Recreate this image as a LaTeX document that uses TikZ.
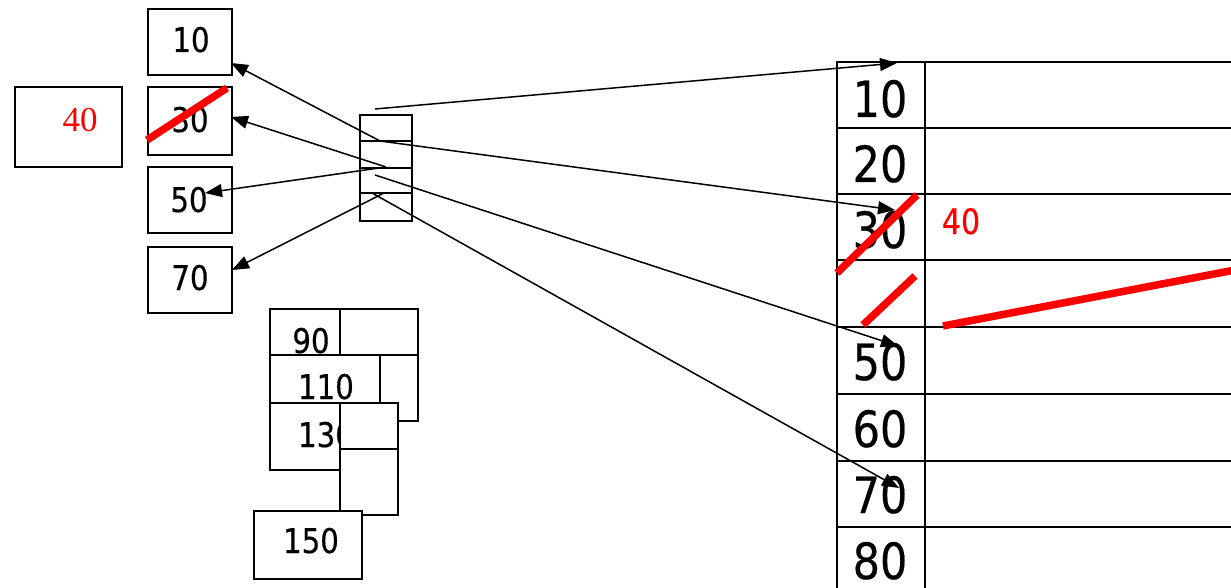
\documentclass[tikz,border=0pt]{standalone}
\usepackage{fontspec}
\usetikzlibrary{arrows.meta}
\newfontfamily\keyfont[FakeStretch=0.86,FakeBold=0.4]{DejaVu Sans}
\newfontfamily\notefont{Liberation Serif}

\begin{document}
\begin{tikzpicture}[x=1pt,y=-1pt,
  box/.style={draw, line width=1.8pt, inner sep=0pt, fill=white},
  key/.style={anchor=base, inner sep=0pt, font=\keyfont\fontsize{34}{34}\selectfont},
  bigkey/.style={anchor=base, inner sep=0pt, font=\keyfont\fontsize{50}{50}\selectfont},
  ptr/.style={line width=1.5pt, -{Triangle[length=17pt,width=13pt]}},
  strike/.style={draw=red, line width=7.5pt},
]
\useasboundingbox (0,0) rectangle (1231,588);

% ---- upper index node: four keys ----
\node[box, minimum width=84pt, minimum height=66pt] (b10) at (190,42) {};
\node[box, minimum width=84pt, minimum height=68pt] (b30) at (190,121) {};
\node[box, minimum width=84pt, minimum height=66pt] (b50) at (190,200) {};
\node[box, minimum width=84pt, minimum height=66pt] (b70) at (190,280) {};
\node[key] (t10) at (191,52) {10};
\node[key] (t30) at (190,132) {30};
\node[key] (t50) at (189,212) {50};
\node[key] (t70) at (190,290) {70};

% new key kept aside
\node[box, minimum width=107pt, minimum height=80pt] (b40) at (68.5,127) {};
\node[anchor=base, inner sep=0pt, text=red, font=\notefont\fontsize{35}{35}\selectfont] (t40) at (80,132) {40};

% ---- pointer array ----
\node[box, minimum width=52pt, minimum height=26pt] (p0) at (386,128) {};
\node[box, minimum width=52pt, minimum height=27pt] (p1) at (386,154.5) {};
\node[box, minimum width=52pt, minimum height=25pt] (p2) at (386,180.5) {};
\node[box, minimum width=52pt, minimum height=28pt] (p3) at (386,207) {};

% ---- lower cluster of overlapping nodes ----
\node[box, minimum width=70pt, minimum height=46pt] (n90k) at (305,332) {};
\node[box, minimum width=78pt, minimum height=46pt] (n90p) at (379,332) {};
\node[key] (t90) at (311,353) {90};
\node[box, minimum width=38pt, minimum height=66pt] (n110p) at (399,388) {};
\node[box, minimum width=110pt, minimum height=48pt] (n110k) at (325,379) {};
\node[key] (t110) at (326,399) {110};
\node[box, minimum width=70pt, minimum height=67pt] (n130k) at (305,436.5) {};
\node[key] (t130) at (326,447) {130};
\node[box, minimum width=58pt, minimum height=46pt] (n130p) at (369,426) {};
\node[box, minimum width=58pt, minimum height=66pt] (n130q) at (369,482) {};
\node[box, minimum width=108pt, minimum height=68pt] (n150) at (308,545) {};
\node[key] (t150) at (311,553) {150};

% ---- leaf table ----
\foreach \ya/\yb/\nm in {61/127/r1,127/193/r2,193/259/r3,259/326/r4,326/393/r5,393/460/r6,460/526/r7,526/620/r8}{
  \node[box, minimum width=88pt, minimum height={\yb-\ya}, anchor=north west] (\nm k) at (836,\ya) {};
  \node[box, minimum width=330pt, minimum height={\yb-\ya}, anchor=north west] (\nm v) at (924,\ya) {};
}
\node[bigkey] at (880,117) {10};
\node[bigkey] at (880,182) {20};
\node[bigkey] at (880,248) {30};
\node[bigkey] at (880,380) {50};
\node[bigkey] at (880,447) {60};
\node[bigkey] at (880,513) {70};
\node[bigkey] at (880,579) {80};
\node[anchor=base, inner sep=0pt, text=red, font=\keyfont\fontsize{35}{35}\selectfont] (n40) at (961,234) {40};

% ---- pointers ----
\coordinate (s0) at (375,109);
\coordinate (s1) at (380,141);
\coordinate (s2) at (386,167);
\coordinate (s2b) at (375,175);
\coordinate (s3) at (384,193);
\coordinate (s3b) at (372,193);

\coordinate (h10) at (231,63);
\coordinate (h30) at (231,117);
\coordinate (h50) at (205,193);
\coordinate (h70) at (232,270);
\coordinate (hr1) at (897,63);
\coordinate (hr3) at (895,210);
\coordinate (hr5) at (898,346);
\coordinate (hr7) at (899,488);

\draw[ptr] (s0) -- (hr1);
\draw[ptr] (s1) -- (h10);
\draw[ptr] (s1) -- (hr3);
\draw[ptr] (s2) -- (h30);
\draw[ptr] (s2) -- (h50);
\draw[ptr] (s2b) -- (hr5);
\draw[ptr] (s3) -- (h70);
\draw[ptr] (s3b) -- (hr7);

% ---- edits marked in red ----
\draw[strike] (147,140) -- (227,88);
\draw[strike] (837,273) -- (917,195);
\draw[strike] (863,325) -- (915,276);
\draw[strike] (943,326) -- (1240,269);
\end{tikzpicture}
\end{document}
